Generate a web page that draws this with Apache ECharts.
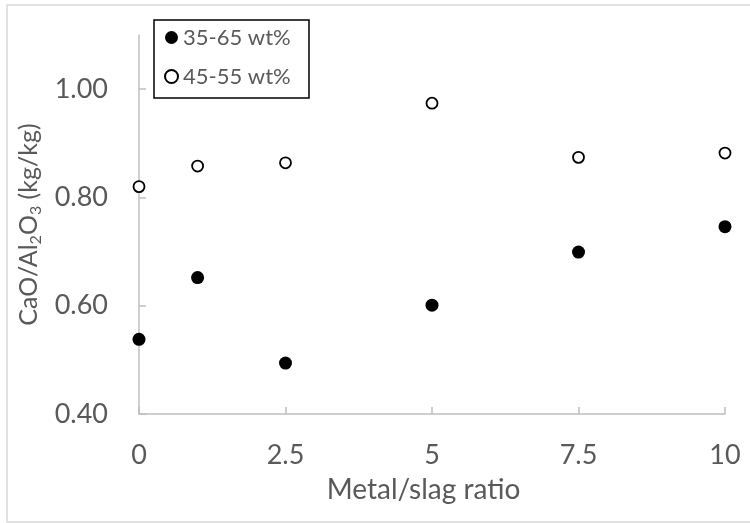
<!DOCTYPE html>
<html>
<head>
<meta charset="utf-8">
<script src="https://cdn.jsdelivr.net/npm/echarts@6/dist/echarts.min.js"></script>
<style>
  html, body { margin: 0; padding: 0; background: #fff; }
  #chart { width: 750px; height: 523px; }
</style>
</head>
<body>
<div id="chart"></div>
<script>
// Metal/slag ratio on the x axis
const metalSlagRatio = [0, 1, 2.5, 5, 7.5, 10];
// CaO/Al2O3 mass ratio for each slag composition range
const series3565 = [0.538, 0.652, 0.494, 0.601, 0.699, 0.746];
const series4555 = [0.820, 0.858, 0.864, 0.974, 0.874, 0.882];
const seriesNames = ['35-65 wt%', '45-55 wt%'];
// Axis tick labels
const xTicks = [0, 2.5, 5, 7.5, 10];
const yTicks = [0.40, 0.60, 0.80, 1.00];

const FONT = 'Lato, "Open Sans", sans-serif';
const GREY = '#595959';
const AXIS = '#bfbfbf';

const pairs = (xs, ys) => xs.map((x, i) => [x, ys[i]]);

const chart = echarts.init(document.getElementById('chart'), null, { renderer: 'canvas' });

chart.setOption({
  backgroundColor: '#ffffff',
  animation: false,
  textStyle: { fontFamily: FONT },
  grid: { left: 139, right: 25, top: 35, bottom: 109, containLabel: false },
  graphic: [
    {
      type: 'rect', silent: true, z: -1,
      shape: { x: 7, y: 5, width: 750, height: 517 },
      style: { fill: 'none', stroke: '#d9d9d9', lineWidth: 1.5 }
    },
    {
      type: 'rect', silent: true, z: 10,
      shape: { x: 154, y: 20, width: 155, height: 78 },
      style: { fill: '#ffffff', stroke: '#000000', lineWidth: 1.5 }
    }
  ],
  legend: {
    orient: 'vertical',
    left: 164, top: 26,
    padding: 0,
    z: 20,
    itemWidth: 13, itemHeight: 13,
    itemGap: 16,
    textStyle: { fontSize: 22, lineHeight: 23, color: GREY, fontFamily: FONT },
    data: seriesNames
  },
  xAxis: {
    type: 'value',
    min: 0, max: 10, interval: 2.5,
    name: 'Metal/slag ratio',
    nameLocation: 'middle',
    nameGap: 62,
    nameTextStyle: { fontSize: 28, color: GREY, fontFamily: FONT, padding: [0, 17, 0, 0] },
    axisLine: { show: true, lineStyle: { color: AXIS, width: 1.5 } },
    axisTick: { show: true, inside: true, length: 7, lineStyle: { color: AXIS, width: 1.5 }, customValues: xTicks },
    axisLabel: { fontSize: 27, color: GREY, margin: 28, fontFamily: FONT, customValues: xTicks,
                 formatter: v => String(v) },
    splitLine: { show: false }
  },
  yAxis: {
    type: 'value',
    min: 0.4, max: 1.1, interval: 0.2,
    name: 'CaO/Al{s|2}O{s|3} (kg/kg)',
    nameLocation: 'middle',
    nameGap: 88,
    nameTextStyle: {
      fontSize: 25, lineHeight: 30, color: GREY, fontFamily: FONT,
      rich: { s: { fontSize: 16, lineHeight: 12, verticalAlign: 'bottom', color: GREY, fontFamily: FONT } }
    },
    axisLine: { show: true, lineStyle: { color: AXIS, width: 1.5 } },
    axisTick: { show: true, inside: true, length: 7, lineStyle: { color: AXIS, width: 1.5 }, customValues: yTicks },
    axisLabel: { fontSize: 27, color: GREY, margin: 31, fontFamily: FONT, customValues: yTicks,
                 formatter: v => v.toFixed(2) },
    splitLine: { show: false }
  },
  series: [
    {
      name: seriesNames[0],
      type: 'scatter',
      symbol: 'circle',
      symbolSize: 13,
      itemStyle: { color: '#000000', opacity: 1 },
      data: pairs(metalSlagRatio, series3565)
    },
    {
      name: seriesNames[1],
      type: 'scatter',
      symbol: 'circle',
      symbolSize: 11,
      itemStyle: { color: '#ffffff', borderColor: '#000000', borderWidth: 1.8, opacity: 1 },
      data: pairs(metalSlagRatio, series4555)
    }
  ]
});
</script>
</body>
</html>
